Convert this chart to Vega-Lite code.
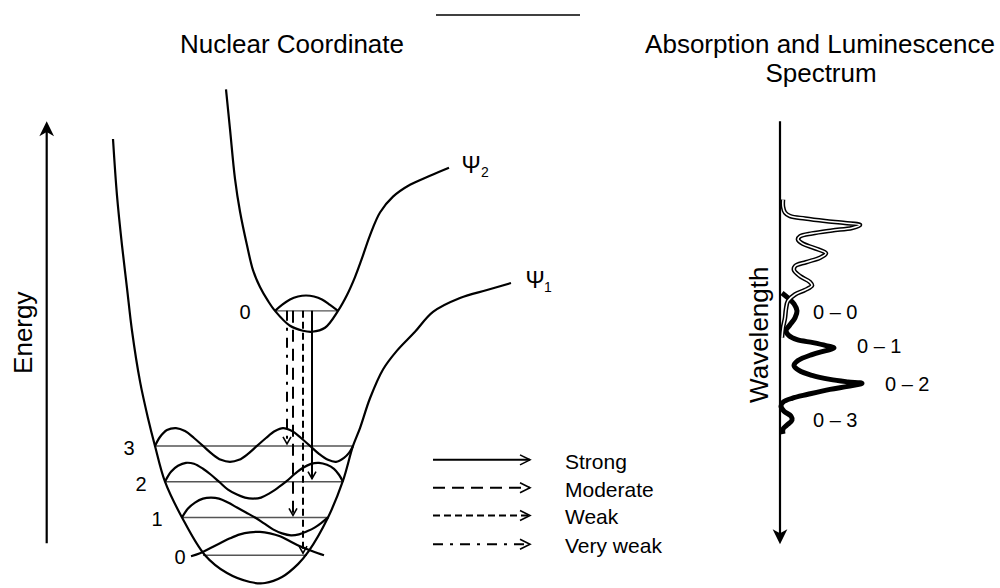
{
  "$schema": "https://vega.github.io/schema/vega-lite/v6.json",
  "width": 1000,
  "height": 588,
  "autosize": {"type": "fit", "contains": "padding"},
  "padding": 0,
  "background": "white",
  "config": {"view": {"stroke": null}, "text": {"font": "Liberation Sans", "color": "black"}},
  "datasets": {
    "potentials": [
      {"curve": "psi1", "i": 0, "x": 113, "y": 140}, {"curve": "psi1", "i": 1, "x": 117, "y": 197},
      {"curve": "psi1", "i": 2, "x": 122, "y": 247}, {"curve": "psi1", "i": 3, "x": 127, "y": 290},
      {"curve": "psi1", "i": 4, "x": 132, "y": 333}, {"curve": "psi1", "i": 5, "x": 140, "y": 384},
      {"curve": "psi1", "i": 6, "x": 148, "y": 421}, {"curve": "psi1", "i": 7, "x": 155, "y": 449},
      {"curve": "psi1", "i": 8, "x": 165, "y": 485}, {"curve": "psi1", "i": 9, "x": 182, "y": 521},
      {"curve": "psi1", "i": 10, "x": 205, "y": 559}, {"curve": "psi1", "i": 11, "x": 227, "y": 577},
      {"curve": "psi1", "i": 12, "x": 250, "y": 586}, {"curve": "psi1", "i": 13, "x": 265, "y": 587},
      {"curve": "psi1", "i": 14, "x": 282, "y": 581}, {"curve": "psi1", "i": 15, "x": 298, "y": 568},
      {"curve": "psi1", "i": 16, "x": 308, "y": 556}, {"curve": "psi1", "i": 17, "x": 328, "y": 521},
      {"curve": "psi1", "i": 18, "x": 343, "y": 484}, {"curve": "psi1", "i": 19, "x": 353, "y": 449},
      {"curve": "psi1", "i": 20, "x": 360, "y": 431}, {"curve": "psi1", "i": 21, "x": 370, "y": 401},
      {"curve": "psi1", "i": 22, "x": 383, "y": 372}, {"curve": "psi1", "i": 23, "x": 397, "y": 353},
      {"curve": "psi1", "i": 24, "x": 415, "y": 334}, {"curve": "psi1", "i": 25, "x": 433, "y": 314},
      {"curve": "psi1", "i": 26, "x": 460, "y": 300}, {"curve": "psi1", "i": 27, "x": 487, "y": 292},
      {"curve": "psi1", "i": 28, "x": 511, "y": 285},
      {"curve": "psi2", "i": 0, "x": 226, "y": 90}, {"curve": "psi2", "i": 1, "x": 230, "y": 130},
      {"curve": "psi2", "i": 2, "x": 235, "y": 180}, {"curve": "psi2", "i": 3, "x": 240, "y": 213},
      {"curve": "psi2", "i": 4, "x": 247, "y": 247}, {"curve": "psi2", "i": 5, "x": 253, "y": 272},
      {"curve": "psi2", "i": 6, "x": 260, "y": 289}, {"curve": "psi2", "i": 7, "x": 268, "y": 303},
      {"curve": "psi2", "i": 8, "x": 275, "y": 313}, {"curve": "psi2", "i": 9, "x": 290, "y": 328},
      {"curve": "psi2", "i": 10, "x": 303, "y": 333}, {"curve": "psi2", "i": 11, "x": 312, "y": 334},
      {"curve": "psi2", "i": 12, "x": 325, "y": 330}, {"curve": "psi2", "i": 13, "x": 338, "y": 313},
      {"curve": "psi2", "i": 14, "x": 347, "y": 297}, {"curve": "psi2", "i": 15, "x": 355, "y": 279},
      {"curve": "psi2", "i": 16, "x": 362, "y": 260}, {"curve": "psi2", "i": 17, "x": 370, "y": 237},
      {"curve": "psi2", "i": 18, "x": 380, "y": 214}, {"curve": "psi2", "i": 19, "x": 393, "y": 198},
      {"curve": "psi2", "i": 20, "x": 410, "y": 186}, {"curve": "psi2", "i": 21, "x": 430, "y": 177},
      {"curve": "psi2", "i": 22, "x": 449, "y": 169}
    ],
    "wavefunctions": [
      {"state": "u0", "i": 0, "x": 275, "y": 313}, {"state": "u0", "i": 1, "x": 282, "y": 307},
      {"state": "u0", "i": 2, "x": 290, "y": 301.5}, {"state": "u0", "i": 3, "x": 298, "y": 298.5},
      {"state": "u0", "i": 4, "x": 306, "y": 297.5}, {"state": "u0", "i": 5, "x": 314, "y": 298.5},
      {"state": "u0", "i": 6, "x": 322, "y": 301.5}, {"state": "u0", "i": 7, "x": 330, "y": 307},
      {"state": "u0", "i": 8, "x": 338, "y": 313},
      {"state": "g3", "i": 0, "x": 155, "y": 449}, {"state": "g3", "i": 1, "x": 160, "y": 440},
      {"state": "g3", "i": 2, "x": 167, "y": 433}, {"state": "g3", "i": 3, "x": 176, "y": 431},
      {"state": "g3", "i": 4, "x": 185, "y": 434}, {"state": "g3", "i": 5, "x": 194, "y": 441},
      {"state": "g3", "i": 6, "x": 203, "y": 449}, {"state": "g3", "i": 7, "x": 212, "y": 457},
      {"state": "g3", "i": 8, "x": 221, "y": 463}, {"state": "g3", "i": 9, "x": 230, "y": 465},
      {"state": "g3", "i": 10, "x": 239, "y": 463}, {"state": "g3", "i": 11, "x": 248, "y": 457},
      {"state": "g3", "i": 12, "x": 257, "y": 449}, {"state": "g3", "i": 13, "x": 266, "y": 441},
      {"state": "g3", "i": 14, "x": 275, "y": 434}, {"state": "g3", "i": 15, "x": 283, "y": 431},
      {"state": "g3", "i": 16, "x": 292, "y": 434}, {"state": "g3", "i": 17, "x": 301, "y": 441},
      {"state": "g3", "i": 18, "x": 310, "y": 449}, {"state": "g3", "i": 19, "x": 319, "y": 457},
      {"state": "g3", "i": 20, "x": 328, "y": 463}, {"state": "g3", "i": 21, "x": 336, "y": 465},
      {"state": "g3", "i": 22, "x": 344, "y": 461}, {"state": "g3", "i": 23, "x": 349, "y": 456},
      {"state": "g3", "i": 24, "x": 353, "y": 449},
      {"state": "g2", "i": 0, "x": 165, "y": 485}, {"state": "g2", "i": 1, "x": 171, "y": 475},
      {"state": "g2", "i": 2, "x": 178, "y": 469}, {"state": "g2", "i": 3, "x": 186, "y": 466},
      {"state": "g2", "i": 4, "x": 194, "y": 467}, {"state": "g2", "i": 5, "x": 203, "y": 472},
      {"state": "g2", "i": 6, "x": 211, "y": 478}, {"state": "g2", "i": 7, "x": 219, "y": 485},
      {"state": "g2", "i": 8, "x": 228, "y": 493}, {"state": "g2", "i": 9, "x": 237, "y": 498},
      {"state": "g2", "i": 10, "x": 245, "y": 501}, {"state": "g2", "i": 11, "x": 253, "y": 502},
      {"state": "g2", "i": 12, "x": 261, "y": 501}, {"state": "g2", "i": 13, "x": 269, "y": 497},
      {"state": "g2", "i": 14, "x": 278, "y": 491}, {"state": "g2", "i": 15, "x": 286, "y": 485},
      {"state": "g2", "i": 16, "x": 295, "y": 477}, {"state": "g2", "i": 17, "x": 303, "y": 471},
      {"state": "g2", "i": 18, "x": 311, "y": 467}, {"state": "g2", "i": 19, "x": 319, "y": 466},
      {"state": "g2", "i": 20, "x": 327, "y": 468}, {"state": "g2", "i": 21, "x": 334, "y": 472},
      {"state": "g2", "i": 22, "x": 339, "y": 478}, {"state": "g2", "i": 23, "x": 343, "y": 485},
      {"state": "g1", "i": 0, "x": 182, "y": 521}, {"state": "g1", "i": 1, "x": 188, "y": 512},
      {"state": "g1", "i": 2, "x": 195, "y": 506}, {"state": "g1", "i": 3, "x": 203, "y": 502},
      {"state": "g1", "i": 4, "x": 211, "y": 501}, {"state": "g1", "i": 5, "x": 219, "y": 502},
      {"state": "g1", "i": 6, "x": 228, "y": 506}, {"state": "g1", "i": 7, "x": 237, "y": 511},
      {"state": "g1", "i": 8, "x": 246, "y": 516}, {"state": "g1", "i": 9, "x": 255, "y": 521},
      {"state": "g1", "i": 10, "x": 264, "y": 527}, {"state": "g1", "i": 11, "x": 273, "y": 533},
      {"state": "g1", "i": 12, "x": 282, "y": 537}, {"state": "g1", "i": 13, "x": 291, "y": 539},
      {"state": "g1", "i": 14, "x": 299, "y": 538}, {"state": "g1", "i": 15, "x": 307, "y": 535},
      {"state": "g1", "i": 16, "x": 315, "y": 531}, {"state": "g1", "i": 17, "x": 322, "y": 526},
      {"state": "g1", "i": 18, "x": 328, "y": 521},
      {"state": "g0", "i": 0, "x": 191, "y": 560}, {"state": "g0", "i": 1, "x": 200, "y": 557},
      {"state": "g0", "i": 2, "x": 210, "y": 552}, {"state": "g0", "i": 3, "x": 220, "y": 547},
      {"state": "g0", "i": 4, "x": 230, "y": 542}, {"state": "g0", "i": 5, "x": 240, "y": 538},
      {"state": "g0", "i": 6, "x": 250, "y": 536}, {"state": "g0", "i": 7, "x": 260, "y": 535.5},
      {"state": "g0", "i": 8, "x": 270, "y": 537}, {"state": "g0", "i": 9, "x": 280, "y": 540},
      {"state": "g0", "i": 10, "x": 290, "y": 545}, {"state": "g0", "i": 11, "x": 300, "y": 550},
      {"state": "g0", "i": 12, "x": 310, "y": 554}, {"state": "g0", "i": 13, "x": 318, "y": 557},
      {"state": "g0", "i": 14, "x": 324, "y": 559}
    ],
    "levels": [
      {"level": "upper 0", "x": 275, "x2": 338, "y": 313},
      {"level": "3", "x": 155, "x2": 353, "y": 449},
      {"level": "2", "x": 165, "x2": 343, "y": 485},
      {"level": "1", "x": 182, "x2": 328, "y": 521},
      {"level": "0", "x": 203, "x2": 307, "y": 559}
    ],
    "transitions": [
      {"strength": "Very weak", "x": 287, "y": 313, "y2": 447},
      {"strength": "Moderate", "x": 293, "y": 313, "y2": 519},
      {"strength": "Weak", "x": 303, "y": 313, "y2": 557},
      {"strength": "Strong", "x": 312, "y": 313, "y2": 482}
    ],
    "legend": [
      {"strength": "Strong", "x": 433, "x2": 530, "y": 463, "label": "Strong"},
      {"strength": "Moderate", "x": 433, "x2": 530, "y": 491, "label": "Moderate"},
      {"strength": "Weak", "x": 433, "x2": 530, "y": 519, "label": "Weak"},
      {"strength": "Very weak", "x": 433, "x2": 530, "y": 548, "label": "Very weak"}
    ],
    "axisLines": [
      {"name": "Energy", "x": 46.7, "y": 133, "y2": 547},
      {"name": "Wavelength", "x": 780, "y": 122, "y2": 538}
    ],
    "axisHeadsUp": [{"name": "Energy", "x": 46.7, "y": 122}],
    "axisHeadsDown": [{"name": "Wavelength", "x": 780, "y": 548}],
    "absorption": [
      {"i": 0, "x": 783, "y": 201}, {"i": 1, "x": 783, "y": 208}, {"i": 2, "x": 785, "y": 214},
      {"i": 3, "x": 790, "y": 217.5}, {"i": 4, "x": 805, "y": 220}, {"i": 5, "x": 825, "y": 222.5},
      {"i": 6, "x": 845, "y": 224.5}, {"i": 7, "x": 860, "y": 226.5}, {"i": 8, "x": 852, "y": 229.5},
      {"i": 9, "x": 832, "y": 232}, {"i": 10, "x": 812, "y": 235}, {"i": 11, "x": 800, "y": 238},
      {"i": 12, "x": 798, "y": 241}, {"i": 13, "x": 803, "y": 245.5}, {"i": 14, "x": 815, "y": 250},
      {"i": 15, "x": 826, "y": 255}, {"i": 16, "x": 820, "y": 259.5}, {"i": 17, "x": 806, "y": 264},
      {"i": 18, "x": 795, "y": 268}, {"i": 19, "x": 794, "y": 272}, {"i": 20, "x": 800, "y": 278},
      {"i": 21, "x": 810, "y": 284}, {"i": 22, "x": 812, "y": 287.5}, {"i": 23, "x": 805, "y": 292},
      {"i": 24, "x": 795, "y": 296.5}, {"i": 25, "x": 788, "y": 303}, {"i": 26, "x": 786, "y": 311},
      {"i": 27, "x": 785, "y": 320}, {"i": 28, "x": 783, "y": 330}, {"i": 29, "x": 782, "y": 340}
    ],
    "emission": [
      {"i": 0, "x": 782, "y": 295}, {"i": 1, "x": 788, "y": 300}, {"i": 2, "x": 794, "y": 306},
      {"i": 3, "x": 797, "y": 313}, {"i": 4, "x": 795, "y": 320}, {"i": 5, "x": 790, "y": 327},
      {"i": 6, "x": 786, "y": 333}, {"i": 7, "x": 789, "y": 338}, {"i": 8, "x": 797, "y": 342},
      {"i": 9, "x": 813, "y": 345}, {"i": 10, "x": 826, "y": 348}, {"i": 11, "x": 834, "y": 350.5},
      {"i": 12, "x": 826, "y": 353}, {"i": 13, "x": 812, "y": 357}, {"i": 14, "x": 798, "y": 363},
      {"i": 15, "x": 794, "y": 368}, {"i": 16, "x": 799, "y": 373}, {"i": 17, "x": 812, "y": 378},
      {"i": 18, "x": 830, "y": 382}, {"i": 19, "x": 848, "y": 384.5}, {"i": 20, "x": 862, "y": 386},
      {"i": 21, "x": 848, "y": 389}, {"i": 22, "x": 830, "y": 392}, {"i": 23, "x": 808, "y": 397},
      {"i": 24, "x": 792, "y": 401}, {"i": 25, "x": 783, "y": 405}, {"i": 26, "x": 781, "y": 409},
      {"i": 27, "x": 784, "y": 414}, {"i": 28, "x": 791, "y": 419}, {"i": 29, "x": 792, "y": 423},
      {"i": 30, "x": 787, "y": 428}, {"i": 31, "x": 783, "y": 432}, {"i": 32, "x": 783, "y": 437}
    ],
    "headerRule": [{"x": 436, "x2": 580, "y": 15}],
    "titles": [
      {"text": "Nuclear Coordinate", "x": 292, "y": 53},
      {"text": "Absorption and Luminescence", "x": 820, "y": 53},
      {"text": "Spectrum", "x": 821, "y": 83}
    ],
    "axisTitles": [
      {"text": "Energy", "x": 32, "y": 335},
      {"text": "Wavelength", "x": 768, "y": 337}
    ],
    "levelLabels": [
      {"text": "0", "x": 245, "y": 321},
      {"text": "3", "x": 129, "y": 458},
      {"text": "2", "x": 141, "y": 494},
      {"text": "1", "x": 157, "y": 530},
      {"text": "0", "x": 180, "y": 568}
    ],
    "peakLabels": [
      {"text": "0 – 0", "x": 813, "y": 321},
      {"text": "0 – 1", "x": 857, "y": 355},
      {"text": "0 – 2", "x": 885, "y": 394},
      {"text": "0 – 3", "x": 813, "y": 430}
    ],
    "psiLabels": [
      {"text": "Ψ", "sub": "2", "x": 471, "y": 174, "xs": 485, "ys": 178},
      {"text": "Ψ", "sub": "1", "x": 535, "y": 290, "xs": 548, "ys": 294}
    ]
  },
  "encoding": {
    "x": {"field": "x", "type": "quantitative", "axis": null, "scale": {"domain": [0, 1000], "nice": false, "zero": false}},
    "y": {"field": "y", "type": "quantitative", "axis": null, "scale": {"domain": [0, 588], "reverse": true, "nice": false, "zero": false}}
  },
  "layer": [
    {
      "data": {"name": "headerRule"},
      "mark": {"type": "rule", "stroke": "black", "strokeWidth": 1.5},
      "encoding": {"x2": {"field": "x2"}}
    },
    {
      "data": {"name": "levels"},
      "mark": {"type": "rule", "stroke": "#555555", "strokeWidth": 1.4},
      "encoding": {"x2": {"field": "x2"}}
    },
    {
      "data": {"name": "potentials"},
      "mark": {"type": "line", "stroke": "black", "strokeWidth": 2.2, "interpolate": "catmull-rom"},
      "encoding": {"detail": {"field": "curve"}, "order": {"field": "i", "type": "quantitative"}}
    },
    {
      "data": {"name": "wavefunctions"},
      "mark": {"type": "line", "stroke": "black", "strokeWidth": 2.2, "interpolate": "catmull-rom"},
      "encoding": {"detail": {"field": "state"}, "order": {"field": "i", "type": "quantitative"}}
    },
    {
      "data": {"name": "transitions"},
      "mark": {"type": "rule", "stroke": "black", "strokeWidth": 2},
      "encoding": {
        "y2": {"field": "y2"},
        "strokeDash": {"field": "strength", "type": "nominal", "legend": null,
          "scale": {"domain": ["Strong", "Moderate", "Weak", "Very weak"], "range": [[1, 0], [12, 7], [7, 4], [10, 7, 3, 7]]}}
      }
    },
    {
      "data": {"name": "transitions"},
      "mark": {"type": "point", "shape": "M-0.57,-1L0,0L0.57,-1", "size": 196, "filled": false, "stroke": "black", "strokeWidth": 1.6, "opacity": 1},
      "encoding": {"y": {"field": "y2", "type": "quantitative"}}
    },
    {
      "data": {"name": "legend"},
      "mark": {"type": "rule", "stroke": "black", "strokeWidth": 2},
      "encoding": {
        "x2": {"field": "x2"},
        "strokeDash": {"field": "strength", "type": "nominal", "legend": null,
          "scale": {"domain": ["Strong", "Moderate", "Weak", "Very weak"], "range": [[1, 0], [12, 7], [7, 4], [10, 7, 3, 7]]}}
      }
    },
    {
      "data": {"name": "legend"},
      "mark": {"type": "point", "shape": "M-1,-0.5L0,0L-1,0.5", "size": 400, "filled": false, "stroke": "black", "strokeWidth": 1.6, "opacity": 1},
      "encoding": {"x": {"field": "x2", "type": "quantitative"}}
    },
    {
      "data": {"name": "legend"},
      "mark": {"type": "text", "fontSize": 21, "align": "left", "baseline": "alphabetic", "dx": 35, "dy": 9},
      "encoding": {"x": {"field": "x2", "type": "quantitative"}, "text": {"field": "label"}}
    },
    {
      "data": {"name": "axisLines"},
      "mark": {"type": "rule", "stroke": "black", "strokeWidth": 2.2},
      "encoding": {"y2": {"field": "y2"}}
    },
    {
      "data": {"name": "axisHeadsUp"},
      "mark": {"type": "point", "shape": "M0,0L0.49,1L0,0.73L-0.49,1Z", "size": 900, "filled": true, "fill": "black", "strokeWidth": 0, "opacity": 1}
    },
    {
      "data": {"name": "axisHeadsDown"},
      "mark": {"type": "point", "shape": "M0,0L0.49,-1L0,-0.73L-0.49,-1Z", "size": 900, "filled": true, "fill": "black", "strokeWidth": 0, "opacity": 1}
    },
    {
      "data": {"name": "emission"},
      "mark": {"type": "line", "stroke": "black", "strokeWidth": 5, "interpolate": "catmull-rom"},
      "encoding": {"order": {"field": "i", "type": "quantitative"}}
    },
    {
      "data": {"name": "absorption"},
      "mark": {"type": "line", "stroke": "black", "strokeWidth": 4.6, "interpolate": "catmull-rom"},
      "encoding": {"order": {"field": "i", "type": "quantitative"}}
    },
    {
      "data": {"name": "absorption"},
      "mark": {"type": "line", "stroke": "white", "strokeWidth": 1.6, "interpolate": "catmull-rom"},
      "encoding": {"order": {"field": "i", "type": "quantitative"}}
    },
    {
      "data": {"name": "titles"},
      "mark": {"type": "text", "fontSize": 26, "align": "center", "baseline": "alphabetic"},
      "encoding": {"text": {"field": "text"}}
    },
    {
      "data": {"name": "axisTitles"},
      "mark": {"type": "text", "fontSize": 26, "align": "center", "baseline": "alphabetic", "angle": 270},
      "encoding": {"text": {"field": "text"}}
    },
    {
      "data": {"name": "levelLabels"},
      "mark": {"type": "text", "fontSize": 20, "align": "center", "baseline": "alphabetic"},
      "encoding": {"text": {"field": "text"}}
    },
    {
      "data": {"name": "peakLabels"},
      "mark": {"type": "text", "fontSize": 20, "align": "left", "baseline": "alphabetic"},
      "encoding": {"text": {"field": "text"}}
    },
    {
      "data": {"name": "psiLabels"},
      "mark": {"type": "text", "fontSize": 23, "align": "center", "baseline": "alphabetic"},
      "encoding": {"text": {"field": "text"}}
    },
    {
      "data": {"name": "psiLabels"},
      "mark": {"type": "text", "fontSize": 14, "align": "center", "baseline": "alphabetic"},
      "encoding": {"x": {"field": "xs", "type": "quantitative"}, "y": {"field": "ys", "type": "quantitative"}, "text": {"field": "sub"}}
    }
  ]
}
